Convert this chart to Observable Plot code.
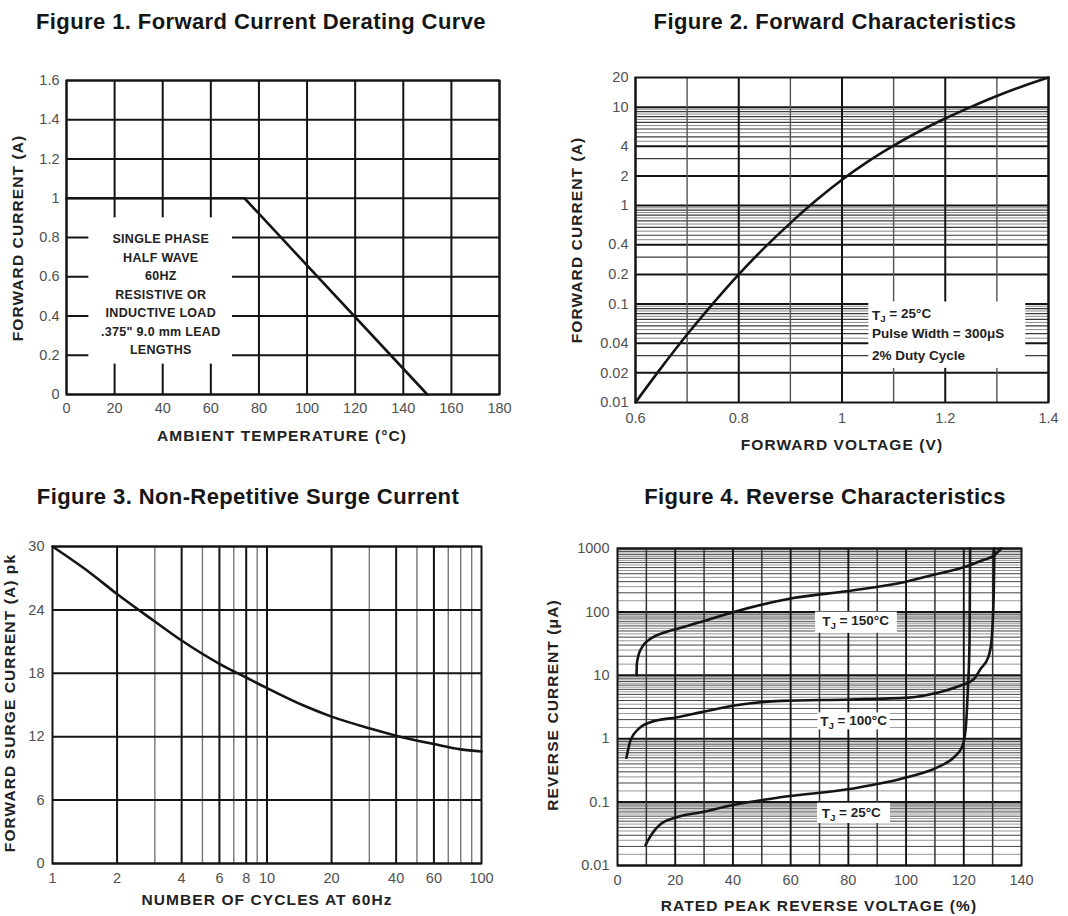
<!DOCTYPE html>
<html><head><meta charset="utf-8">
<script src="https://cdn.jsdelivr.net/npm/d3@7"></script>
<script src="https://cdn.jsdelivr.net/npm/@observablehq/plot@0.6"></script>
<style>
body{margin:0;background:#fff;}
#root{position:relative;width:1068px;height:916px;overflow:hidden;font-family:"Liberation Sans",Arial,sans-serif;background:#fff;}
.t{position:absolute;white-space:nowrap;transform:translate(-50%,-50%);line-height:1;}
.title{font-weight:bold;font-size:22px;letter-spacing:0.4px;color:#151515;}
.al{font-weight:bold;font-size:15.5px;letter-spacing:1.1px;color:#222;}
.rot{transform:translate(-50%,-50%) rotate(-90deg);}
</style></head><body><div id="root"></div>
<script>
// ---------- DATA ----------
// Figure 1: Forward current derating curve
const fig1Temp = [0, 74, 150];
const fig1Current = [1, 1, 0];
const fig1XTicks = [0, 20, 40, 60, 80, 100, 120, 140, 160, 180];
const fig1YTicks = [0, 0.2, 0.4, 0.6, 0.8, 1, 1.2, 1.4, 1.6];
const fig1Note = "SINGLE PHASE\nHALF WAVE\n60HZ\nRESISTIVE OR\nINDUCTIVE LOAD\n.375\" 9.0 mm LEAD\nLENGTHS";

// Figure 2: Forward characteristics
const fig2Voltage = [0.6, 0.65, 0.7, 0.75, 0.8, 0.85, 0.9, 0.95, 1.0, 1.05, 1.1, 1.15, 1.2, 1.25, 1.3, 1.35, 1.4];
const fig2Current = [0.01, 0.0226, 0.049, 0.101, 0.2, 0.374, 0.664, 1.13, 1.83, 2.8, 4.07, 5.69, 7.67, 10.06, 12.96, 16.3, 20];
const fig2XTicks = [0.6, 0.8, 1, 1.2, 1.4];
const fig2XGridMinor = [0.7, 0.9, 1.1, 1.3];
const fig2YTicks = [0.01, 0.02, 0.04, 0.1, 0.2, 0.4, 1, 2, 4, 10, 20];
const fig2Notes = ["T_J = 25°C", "Pulse Width = 300μS", "2% Duty Cycle"];

// Figure 3: Non-repetitive surge current
const fig3Cycles = [1, 1.5, 2, 3, 4, 6, 8, 10, 15, 20, 30, 40, 60, 80, 100];
const fig3Surge = [30, 27.5, 25.5, 22.9, 21.1, 18.9, 17.6, 16.6, 14.9, 13.9, 12.8, 12.1, 11.3, 10.8, 10.6];
const fig3XTicks = [1, 2, 4, 6, 8, 10, 20, 40, 60, 100];
const fig3XGridMinor = [3, 5, 7, 9, 30, 50, 70, 80, 90];
const fig3YTicks = [0, 6, 12, 18, 24, 30];

// Figure 4: Reverse characteristics
const fig4T150V = [6.6, 6.7, 7.2, 8.5, 11.4, 16, 22, 30, 40, 60, 80, 100, 110, 120, 126, 130, 133];
const fig4T150I = [10, 15, 20, 27.7, 37.6, 47, 56, 72, 99, 163, 214, 300, 390, 505, 640, 750, 1000];
const fig4T100V = [3.1, 4.5, 7.4, 11.4, 20.7, 28.8, 40, 56.5, 80.7, 100.9, 110.8, 118.9, 123.5, 125.8, 128.5, 129.6, 130.1, 130.4, 130.6];
const fig4T100I = [0.5, 0.94, 1.44, 1.82, 2.18, 2.6, 3.3, 3.95, 4.15, 4.45, 5.3, 6.9, 8.7, 12.6, 19.4, 35, 82, 218, 1000];
const fig4T25V = [9.7, 12, 15, 20.7, 29, 40, 57, 81, 101, 111, 116.6, 119.4, 120.6, 121.4, 122, 122.2];
const fig4T25I = [0.021, 0.032, 0.045, 0.058, 0.069, 0.09, 0.12, 0.162, 0.25, 0.355, 0.51, 0.74, 1.35, 5.8, 35, 1000];
const fig4XTicks = [0, 20, 40, 60, 80, 100, 120, 140];
const fig4XGrid = [10, 20, 30, 40, 50, 60, 70, 80, 90, 100, 110, 120, 130];
const fig4YTicks = [0.01, 0.1, 1, 10, 100, 1000];
const fig4Labels = ["T_J = 150°C", "T_J = 100°C", "T_J = 25°C"];

// ---------- HELPERS ----------
const root = document.getElementById("root");
const FONT = "'Liberation Sans', Arial, sans-serif";
const INK = "#141414";
const TICK = "#505050";
function addText(txt, x, y, cls) {
  const d = document.createElement("div");
  d.className = "t " + cls; d.textContent = txt;
  d.style.left = x + "px"; d.style.top = y + "px";
  root.appendChild(d);
}
function place(svg, left, top) {
  svg.style.position = "absolute"; svg.style.left = left + "px"; svg.style.top = top + "px";
  root.appendChild(svg);
}
function subscriptTJ(svg) {
  d3.select(svg).selectAll("text").each(function () {
    const s = this.textContent;
    if (s.startsWith("T_J")) {
      const el = d3.select(this); el.text(null);
      el.append("tspan").text("T");
      el.append("tspan").attr("dy", "0.3em").attr("font-size", "0.72em").text("J");
      el.append("tspan").attr("dy", "-0.3em").text(s.slice(3));
    }
  });
}
const fmt = d => String(d);
const style = {fontFamily: FONT, fontSize: "14.5px", color: "#555", background: "transparent", overflow: "visible"};
const zip = (xs, ys) => xs.map((x, i) => ({x, y: ys[i]}));
const logGrid = (decades, mantissas) => decades.flatMap(d => mantissas.map(m => +(m * d).toPrecision(4)));
// tick labels drawn as text marks positioned through the scales
const axX = (ticks, pad) => Plot.text(ticks, {x: d => d, text: fmt, frameAnchor: "bottom", lineAnchor: "top", dy: pad, fontSize: 14.5, fill: TICK, fontFamily: FONT});
const axY = (ticks, pad) => Plot.text(ticks, {y: d => d, text: fmt, frameAnchor: "left", textAnchor: "end", dx: -pad, fontSize: 14.5, fill: TICK, fontFamily: FONT});

// ---------- FIGURE 1 ----------
{
  const svg = Plot.plot({
    width: 530, height: 400, marginLeft: 66, marginRight: 31, marginTop: 30, marginBottom: 56,
    style,
    x: {domain: [0, 180], axis: null},
    y: {domain: [0, 1.6], axis: null},
    marks: [
      Plot.ruleX(fig1XTicks, {stroke: INK, strokeWidth: 2}),
      Plot.ruleY(fig1YTicks, {stroke: INK, strokeWidth: 2}),
      Plot.rect([{x1: 9.3, x2: 69, y1: 0.155, y2: 0.9}], {x1: "x1", x2: "x2", y1: "y1", y2: "y2", fill: "white"}),
      Plot.text([fig1Note], {x: 39.2, y: 0.517, text: d => d, fontSize: 12.5, fontWeight: "bold", lineHeight: 1.48, fill: "#222", fontFamily: FONT}),
      Plot.frame({stroke: INK, strokeWidth: 2}),
      Plot.line(zip(fig1Temp, fig1Current), {x: "x", y: "y", stroke: INK, strokeWidth: 2.6}),
      axX(fig1XTicks, 8),
      axY(fig1YTicks, 7)
    ]
  });
  d3.select(svg).selectAll("text").filter(function () { return this.textContent.includes("PHASE"); }).attr("letter-spacing", "0.3px");
  place(svg, 0, 50);
}

// ---------- FIGURE 2 ----------
{
  const decades = [0.01, 0.1, 1];
  const yMajor = logGrid(decades, [2, 4, 10]);
  const yMid = logGrid(decades, [3, 5, 6, 7, 8, 9]);
  const yFine = logGrid(decades, [4.5, 5.5, 6.5, 7.5, 8.5, 9.5]);
  const svg = Plot.plot({
    width: 534, height: 400, marginLeft: 101, marginRight: 20, marginTop: 27, marginBottom: 48,
    style,
    x: {domain: [0.6, 1.4], axis: null},
    y: {type: "log", domain: [0.01, 20], axis: null},
    marks: [
      Plot.ruleY(yFine, {stroke: "#888", strokeWidth: 1}),
      Plot.ruleY(yMid, {stroke: "#3a3a3a", strokeWidth: 1.2}),
      Plot.ruleY(yMajor, {stroke: INK, strokeWidth: 2}),
      Plot.ruleX(fig2XGridMinor, {stroke: "#555", strokeWidth: 1.4}),
      Plot.ruleX(fig2XTicks, {stroke: INK, strokeWidth: 2}),
      Plot.rect([{x1: 1.052, x2: 1.356, y1: 0.0222, y2: 0.105}], {x1: "x1", x2: "x2", y1: "y1", y2: "y2", fill: "white"}),
      Plot.text(fig2Notes, {x: 1.058, y: [0.077, 0.05, 0.03], text: d => d, textAnchor: "start", fontSize: 13.5, fontWeight: "bold", fill: "#222", fontFamily: FONT}),
      Plot.frame({stroke: INK, strokeWidth: 2}),
      Plot.line(zip(fig2Voltage, fig2Current), {x: "x", y: "y", stroke: INK, strokeWidth: 2.6, curve: "monotone-x"}),
      axX(fig2XTicks, 10),
      axY(fig2YTicks, 7)
    ]
  });
  subscriptTJ(svg);
  place(svg, 534, 50);
}

// ---------- FIGURE 3 ----------
{
  const xMajor = fig3XTicks.filter(v => v > 1 && v < 100);
  const svg = Plot.plot({
    width: 530, height: 396, marginLeft: 52, marginRight: 49, marginTop: 26, marginBottom: 53,
    style,
    x: {type: "log", domain: [1, 100], axis: null},
    y: {domain: [0, 30], axis: null},
    marks: [
      Plot.ruleX(fig3XGridMinor, {stroke: "#777", strokeWidth: 1.4}),
      Plot.ruleX(xMajor, {stroke: INK, strokeWidth: 2}),
      Plot.ruleY(fig3YTicks, {stroke: INK, strokeWidth: 2}),
      Plot.frame({stroke: INK, strokeWidth: 2}),
      Plot.line(zip(fig3Cycles, fig3Surge), {x: "x", y: "y", stroke: INK, strokeWidth: 2.6, curve: "monotone-x"}),
      axX(fig3XTicks, 9),
      axY(fig3YTicks, 8)
    ]
  });
  place(svg, 0, 520);
}

// ---------- FIGURE 4 ----------
{
  const decades = [0.01, 0.1, 1, 10, 100];
  const yFine = logGrid(decades, [1.5, 2.5, 3.5, 4.5, 5.5, 6.5, 7.5, 8.5, 9.5]);
  const yMid = logGrid(decades, [2, 3, 4, 5, 6, 7, 8, 9]);
  const yMajor = fig4YTicks;
  const boxes = [
    {x1: 68.6, x2: 97, y1: 46, y2: 99},
    {x1: 69.5, x2: 94.5, y1: 1.38, y2: 2.55},
    {x1: 69.3, x2: 94.6, y1: 0.046, y2: 0.096}
  ];
  const svg = Plot.plot({
    width: 534, height: 396, marginLeft: 83, marginRight: 47, marginTop: 28, marginBottom: 51,
    style,
    x: {domain: [0, 140], axis: null},
    y: {type: "log", domain: [0.01, 1000], axis: null},
    marks: [
      Plot.ruleY(yFine, {stroke: "#8c8c8c", strokeWidth: 0.9}),
      Plot.ruleY(yMid, {stroke: "#444", strokeWidth: 1}),
      Plot.ruleY(yMajor, {stroke: INK, strokeWidth: 2}),
      Plot.ruleX(fig4XGrid, {stroke: d => d % 20 === 0 ? INK : "#333", strokeWidth: d => d % 20 === 0 ? 1.9 : 1.5}),
      Plot.rect(boxes, {x1: "x1", x2: "x2", y1: "y1", y2: "y2", fill: "white"}),
      Plot.text(fig4Labels, {x: [82.5, 81.8, 81], y: [70, 1.85, 0.066], text: d => d, fontSize: 13.5, fontWeight: "bold", fill: "#222", fontFamily: FONT}),
      Plot.frame({stroke: INK, strokeWidth: 2}),
      Plot.line(zip(fig4T150V, fig4T150I), {x: "x", y: "y", stroke: INK, strokeWidth: 2.6, curve: "monotone-x"}),
      Plot.line(zip(fig4T100V, fig4T100I), {x: "x", y: "y", stroke: INK, strokeWidth: 2.6, curve: "monotone-x"}),
      Plot.line(zip(fig4T25V, fig4T25I), {x: "x", y: "y", stroke: INK, strokeWidth: 2.6, curve: "monotone-x"}),
      axX(fig4XTicks, 9),
      axY(fig4YTicks, 8)
    ]
  });
  subscriptTJ(svg);
  place(svg, 534, 520);
}

// ---------- TITLES & AXIS LABELS ----------
addText("Figure 1. Forward Current Derating Curve", 261, 22, "title");
addText("Figure 2. Forward Characteristics", 835, 22, "title");
addText("Figure 3. Non-Repetitive Surge Current", 248, 497, "title");
addText("Figure 4. Reverse Characteristics", 825, 497, "title");
addText("AMBIENT TEMPERATURE (°C)", 282, 436, "al");
addText("FORWARD CURRENT (A)", 18, 238, "al rot");
addText("FORWARD VOLTAGE (V)", 842, 445, "al");
addText("FORWARD CURRENT (A)", 577, 240, "al rot");
addText("NUMBER OF CYCLES AT 60Hz", 267, 900, "al");
addText("FORWARD SURGE CURRENT (A) pk", 10, 703, "al rot");
addText("RATED PEAK REVERSE VOLTAGE (%)", 819, 906, "al");
addText("REVERSE CURRENT (μA)", 553, 705, "al rot");
</script>
</body></html>
